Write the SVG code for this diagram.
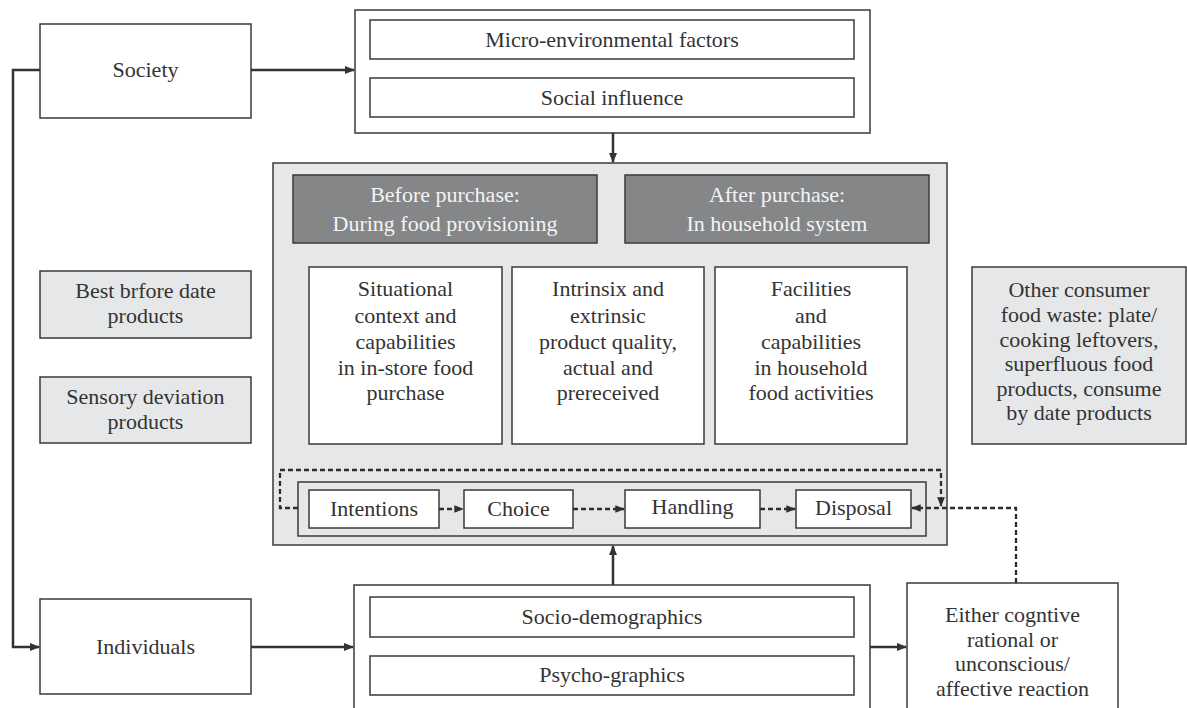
<svg xmlns="http://www.w3.org/2000/svg" width="1187" height="708" viewBox="0 0 1187 708">
<defs>
<style>
.box{fill:#fff;stroke:#3a3a3a;stroke-width:1.5}
.gbox{fill:#e6e7e8;stroke:#3a3a3a;stroke-width:1.5}
.dbox{fill:#858688;stroke:#3a3a3a;stroke-width:1.5}
.t{font-family:"Liberation Serif","Times New Roman",serif;font-size:22px;fill:#333;text-anchor:middle}
.tw{font-family:"Liberation Serif","Times New Roman",serif;font-size:22px;fill:#f4f4f4;text-anchor:middle}
.c{fill:none;stroke:#333;stroke-width:2.5}
.d{fill:none;stroke:#2e2e2e;stroke-width:2.3;stroke-dasharray:5 3}
</style>
<marker id="ah" viewBox="0 0 10 10" refX="9" refY="5" markerWidth="4" markerHeight="4" orient="auto" markerUnits="strokeWidth"><path d="M0,1 L10,5 L0,9 z" fill="#333"/></marker>
<marker id="ahd" viewBox="0 0 10 10" refX="9" refY="5" markerWidth="4.2" markerHeight="4.2" orient="auto" markerUnits="strokeWidth"><path d="M0,1 L10,5 L0,9 z" fill="#2e2e2e"/></marker>
</defs>

<g id="society"><rect class="box" x="40" y="24" width="211" height="94"/><text class="t" x="145.5" y="77">Society</text></g>
<g id="individuals"><rect class="box" x="40" y="599" width="211" height="95"/><text class="t" x="145.5" y="654">Individuals</text></g>
<g id="best-before"><rect class="gbox" x="40" y="271" width="211" height="67"/><text class="t" x="145.5" y="298">Best brfore date</text><text class="t" x="145.5" y="323">products</text></g>
<g id="sensory"><rect class="gbox" x="40" y="377" width="211" height="66"/><text class="t" x="145.5" y="404">Sensory deviation</text><text class="t" x="145.5" y="429">products</text></g>

<g id="micro-env">
<rect class="box" x="355" y="10" width="515" height="123"/>
<rect class="box" x="370" y="20" width="484" height="39"/><text class="t" x="612" y="47">Micro-environmental factors</text>
<rect class="box" x="370" y="78" width="484" height="39"/><text class="t" x="612" y="105">Social influence</text>
</g>

<g id="main">
<rect class="gbox" x="273" y="163" width="674" height="382"/>
<rect class="dbox" x="293" y="175" width="304" height="68"/><text class="tw" x="445" y="202">Before purchase:</text><text class="tw" x="445" y="231">During food provisioning</text>
<rect class="dbox" x="625" y="175" width="304" height="68"/><text class="tw" x="777" y="202">After purchase:</text><text class="tw" x="777" y="231">In household system</text>
</g>
<g id="situational"><rect class="box" x="309" y="267" width="193" height="177"/>
<text class="t" x="405.5" y="296">Situational</text><text class="t" x="405.5" y="323">context and</text><text class="t" x="405.5" y="349">capabilities</text><text class="t" x="405.5" y="375">in in-store food</text><text class="t" x="405.5" y="400">purchase</text></g>
<g id="intrinsic"><rect class="box" x="512" y="267" width="192" height="177"/>
<text class="t" x="608" y="296">Intrinsix and</text><text class="t" x="608" y="323">extrinsic</text><text class="t" x="608" y="349">product quality,</text><text class="t" x="608" y="375">actual and</text><text class="t" x="608" y="400">prereceived</text></g>
<g id="facilities"><rect class="box" x="715" y="267" width="192" height="177"/>
<text class="t" x="811" y="296">Facilities</text><text class="t" x="811" y="323">and</text><text class="t" x="811" y="349">capabilities</text><text class="t" x="811" y="375">in household</text><text class="t" x="811" y="400">food activities</text></g>

<g id="process"><rect class="box" x="298" y="482" width="628" height="54" style="fill:none"/></g>
<g id="intentions"><rect class="box" x="309" y="490" width="130" height="38"/><text class="t" x="374" y="516">Intentions</text></g>
<g id="choice"><rect class="box" x="464" y="490" width="109" height="38"/><text class="t" x="518.5" y="516">Choice</text></g>
<g id="handling"><rect class="box" x="625" y="490" width="135" height="38"/><text class="t" x="692.5" y="514">Handling</text></g>
<g id="disposal"><rect class="box" x="796" y="490" width="115" height="38"/><text class="t" x="853.5" y="515">Disposal</text></g>

<g id="other-waste"><rect class="gbox" x="972" y="267" width="214" height="177"/>
<text class="t" x="1079" y="297">Other consumer</text><text class="t" x="1079" y="322">food waste: plate/</text><text class="t" x="1079" y="347">cooking leftovers,</text><text class="t" x="1079" y="371">superfluous food</text><text class="t" x="1079" y="396">products, consume</text><text class="t" x="1079" y="420">by date products</text></g>

<g id="demographics">
<rect class="box" x="354" y="585" width="516" height="130"/>
<rect class="box" x="370" y="597" width="484" height="40"/><text class="t" x="612" y="624">Socio-demographics</text>
<rect class="box" x="370" y="656" width="484" height="39"/><text class="t" x="612" y="682">Psycho-graphics</text>
</g>
<g id="reaction"><rect class="box" x="907" y="583" width="211" height="132"/>
<text class="t" x="1012.5" y="622">Either cogntive</text><text class="t" x="1012.5" y="647">rational or</text><text class="t" x="1012.5" y="671">unconscious/</text><text class="t" x="1012.5" y="696">affective reaction</text></g>

<g id="connectors">
<path class="c" d="M251,70 H354" marker-end="url(#ah)"/>
<path class="c" d="M40,70 H13 V647 H39" marker-end="url(#ah)"/>
<path class="c" d="M613,133 V162" marker-end="url(#ah)"/>
<path class="c" d="M613,585 V546" marker-end="url(#ah)"/>
<path class="c" d="M251,647 H353" marker-end="url(#ah)"/>
<path class="c" d="M870,647 H906" marker-end="url(#ah)"/>
<path class="d" d="M439,509 H463" marker-end="url(#ahd)"/>
<path class="d" d="M573,509 H624" marker-end="url(#ahd)"/>
<path class="d" d="M760,509 H795" marker-end="url(#ahd)"/>
<path class="d" d="M298,508 H280 V470 H941 V506" marker-end="url(#ahd)"/>
<path class="d" d="M1016,583 V508 H912" marker-end="url(#ahd)"/>
</g>
</svg>
